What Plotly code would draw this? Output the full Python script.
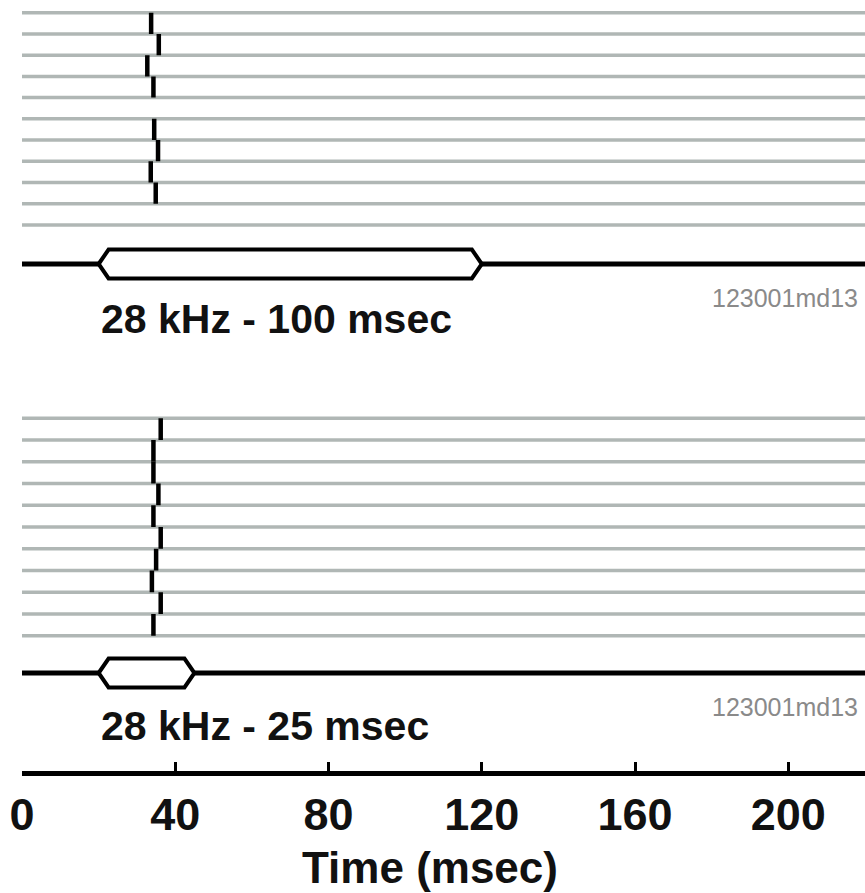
import plotly.graph_objects as go

# Spike times (msec) for each trial row; None = no spike in that trial
spikes_100ms = [33.7, 35.7, 32.7, 34.3, None, 34.5, 35.5, 33.6, 34.9, None]
spikes_25ms = [36.2, 34.3, 34.3, 35.6, 34.3, 36.2, 35.0, 33.9, 36.2, 34.3]

# Stimulus timing (msec): onset, offset
stim_100ms = [20, 120]
stim_25ms = [20, 45]

panel_labels = ["28 kHz - 100 msec", "28 kHz - 25 msec"]
file_tag = "123001md13"

tick_vals = [0, 40, 80, 120, 160, 200]
tick_text = ["0", "40", "80", "120", "160", "200"]
x_max = 220

W, H = 865, 893
FONT = "Liberation Sans, Arial, sans-serif"


def py(px):
    """Convert a pixel row (from top) to paper y."""
    return 1 - px / H


def raster_traces(spikes, xa, ya):
    n = len(spikes)
    gx, gy = [], []
    for k in range(n + 1):
        gx += [0, x_max, None]
        gy += [k, k, None]
    sx, sy = [], []
    for k, t in enumerate(spikes):
        if t is None:
            continue
        sx += [t, t, None]
        sy += [k, k + 1, None]
    grid = go.Scatter(x=gx, y=gy, mode="lines", xaxis=xa, yaxis=ya,
                      line=dict(color="#b0b7b5", width=3.5), hoverinfo="skip")
    spk = go.Scatter(x=sx, y=sy, mode="lines", xaxis=xa, yaxis=ya,
                     line=dict(color="black", width=4.5), hoverinfo="skip")
    return [grid, spk]


fig = go.Figure()
for tr in raster_traces(spikes_100ms, "x", "y"):
    fig.add_trace(tr)
for tr in raster_traces(spikes_25ms, "x2", "y2"):
    fig.add_trace(tr)


def stimulus_shapes(stim, y_mid_px, half_h_px):
    on, off = stim
    taper = 2.6
    ym = py(y_mid_px)
    yt = py(y_mid_px - half_h_px)
    yb = py(y_mid_px + half_h_px)
    base = dict(type="line", xref="x", yref="paper", x0=0, x1=x_max,
                y0=ym, y1=ym, line=dict(color="black", width=5), layer="above")
    path = (f"M {on},{ym} L {on + taper},{yt} L {off - taper},{yt} "
            f"L {off},{ym} L {off - taper},{yb} L {on + taper},{yb} Z")
    pill = dict(type="path", xref="x", yref="paper", path=path,
                fillcolor="white", line=dict(color="black", width=4), layer="above")
    return [base, pill]


shapes = stimulus_shapes(stim_100ms, 264, 14.5) + stimulus_shapes(stim_25ms, 673, 14.5)

annotations = [
    dict(text=panel_labels[0], xref="x", yref="paper", x=stim_100ms[0], y=py(319),
         xanchor="left", yanchor="middle", showarrow=False,
         font=dict(family=FONT, size=41, color="#111", weight="bold")),
    dict(text=panel_labels[1], xref="x", yref="paper", x=stim_25ms[0], y=py(726),
         xanchor="left", yanchor="middle", showarrow=False,
         font=dict(family=FONT, size=41, color="#111", weight="bold")),
    dict(text=file_tag, xref="paper", yref="paper", x=860 / W, y=py(298),
         xanchor="right", yanchor="middle", showarrow=False,
         font=dict(family=FONT, size=25, color="#8a8a8a")),
    dict(text=file_tag, xref="paper", yref="paper", x=860 / W, y=py(707),
         xanchor="right", yanchor="middle", showarrow=False,
         font=dict(family=FONT, size=25, color="#8a8a8a")),
    dict(text="Time (msec)", xref="paper", yref="paper", x=430 / W, y=py(867),
         xanchor="center", yanchor="middle", showarrow=False,
         font=dict(family=FONT, size=44, color="#111", weight="bold")),
]

x_dom = [22 / W, 1]
fig.update_layout(
    width=W, height=H,
    margin=dict(l=0, r=0, t=0, b=0, autoexpand=False),
    paper_bgcolor="white", plot_bgcolor="rgba(0,0,0,0)",
    showlegend=False,
    shapes=shapes,
    annotations=annotations,
    xaxis=dict(domain=x_dom, range=[0, x_max], anchor="free", position=py(773),
               automargin=False,
               showline=True, linecolor="black", linewidth=5,
               ticks="inside", ticklen=9, tickwidth=3, tickcolor="black",
               tickvals=tick_vals, ticktext=tick_text, showgrid=False, zeroline=False,
               tickfont=dict(family=FONT, size=45, color="#111", weight="bold")),
    xaxis2=dict(domain=x_dom, range=[0, x_max], matches="x", anchor="y2",
                visible=False),
    yaxis=dict(domain=[py(235.6), py(2.1)], range=[10.5, -0.5], visible=False),
    yaxis2=dict(domain=[py(646.6), py(407.4)], range=[10.5, -0.5], visible=False),
)

fig.write_html("out.html")
